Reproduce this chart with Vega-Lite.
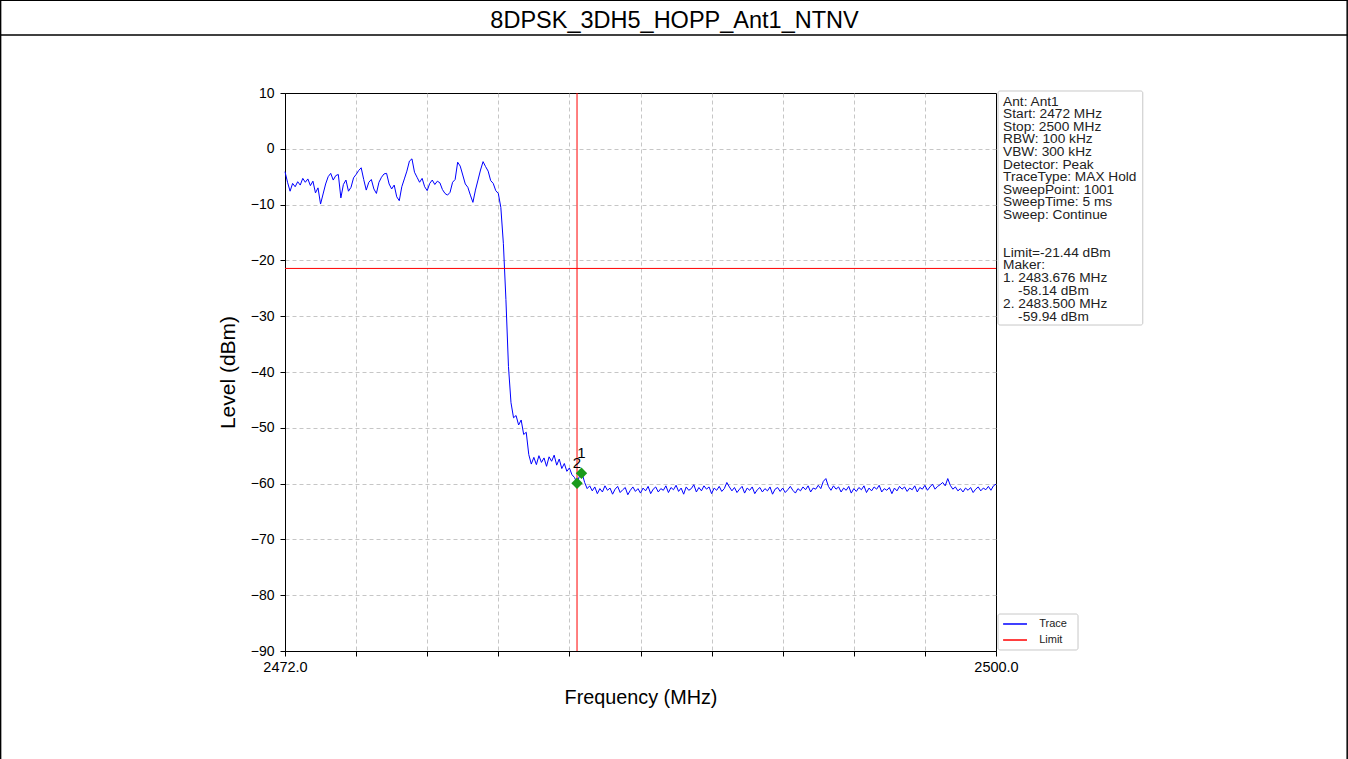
{
  "$schema": "https://vega.github.io/schema/vega-lite/v6.json",
  "width": 711,
  "height": 558,
  "autosize": {"type": "none"},
  "padding": {"left": 285, "top": 93, "right": 352, "bottom": 108},
  "background": "white",
  "config": {
    "font": "Liberation Sans",
    "view": {"stroke": "black", "strokeWidth": 1},
    "axis": {
      "domainColor": "black", "tickColor": "black", "labelColor": "black", "titleColor": "black",
      "gridColor": "#b8b8b8", "gridDash": [4, 3], "gridWidth": 0.8,
      "labelFontSize": 14, "titleFontSize": 19.8, "titleFontWeight": "normal", "tickSize": 5
    }
  },
  "layer": [
    {
      "data": {"values": [
        {"f":2472.0,"v":-4.1},{"f":2472.1,"v":-6.0},{"f":2472.2,"v":-7.6},{"f":2472.3,"v":-6.2},{"f":2472.4,"v":-6.8},
        {"f":2472.5,"v":-5.9},{"f":2472.6,"v":-6.5},{"f":2472.7,"v":-5.3},{"f":2472.8,"v":-6.0},{"f":2472.9,"v":-5.4},
        {"f":2473.0,"v":-6.6},{"f":2473.1,"v":-5.8},{"f":2473.2,"v":-7.9},{"f":2473.3,"v":-7.0},{"f":2473.4,"v":-9.9},
        {"f":2473.5,"v":-8.1},{"f":2473.6,"v":-6.3},{"f":2473.7,"v":-5.0},{"f":2473.8,"v":-4.4},{"f":2473.9,"v":-5.6},
        {"f":2474.0,"v":-4.8},{"f":2474.1,"v":-4.6},{"f":2474.2,"v":-8.8},{"f":2474.3,"v":-6.4},{"f":2474.4,"v":-5.6},
        {"f":2474.5,"v":-7.6},{"f":2474.6,"v":-6.9},{"f":2474.7,"v":-5.2},{"f":2474.8,"v":-4.6},{"f":2474.9,"v":-3.9},
        {"f":2475.0,"v":-3.4},{"f":2475.1,"v":-5.5},{"f":2475.2,"v":-7.4},{"f":2475.3,"v":-6.0},{"f":2475.4,"v":-5.5},
        {"f":2475.5,"v":-7.2},{"f":2475.6,"v":-8.0},{"f":2475.7,"v":-6.0},{"f":2475.8,"v":-5.1},{"f":2475.9,"v":-4.5},
        {"f":2476.0,"v":-4.4},{"f":2476.1,"v":-6.3},{"f":2476.2,"v":-7.2},{"f":2476.3,"v":-6.5},{"f":2476.4,"v":-8.6},
        {"f":2476.5,"v":-9.3},{"f":2476.6,"v":-6.8},{"f":2476.7,"v":-5.4},{"f":2476.8,"v":-4.0},{"f":2476.9,"v":-2.2},
        {"f":2477.0,"v":-1.8},{"f":2477.1,"v":-4.2},{"f":2477.2,"v":-5.1},{"f":2477.3,"v":-6.0},{"f":2477.4,"v":-5.3},
        {"f":2477.5,"v":-6.8},{"f":2477.6,"v":-7.5},{"f":2477.7,"v":-6.2},{"f":2477.8,"v":-5.6},{"f":2477.9,"v":-6.4},
        {"f":2478.0,"v":-5.8},{"f":2478.1,"v":-6.1},{"f":2478.2,"v":-7.3},{"f":2478.3,"v":-8.0},{"f":2478.4,"v":-8.3},
        {"f":2478.5,"v":-7.8},{"f":2478.6,"v":-6.0},{"f":2478.7,"v":-5.5},{"f":2478.8,"v":-2.4},{"f":2478.9,"v":-3.1},
        {"f":2479.0,"v":-4.7},{"f":2479.1,"v":-6.3},{"f":2479.2,"v":-6.9},{"f":2479.3,"v":-8.3},{"f":2479.4,"v":-9.6},
        {"f":2479.5,"v":-7.4},{"f":2479.6,"v":-5.6},{"f":2479.7,"v":-3.8},{"f":2479.8,"v":-2.3},{"f":2479.9,"v":-3.2},
        {"f":2480.0,"v":-4.0},{"f":2480.1,"v":-5.7},{"f":2480.2,"v":-6.2},{"f":2480.3,"v":-7.5},{"f":2480.4,"v":-8.0},
        {"f":2480.5,"v":-10.5},{"f":2480.6,"v":-17.0},{"f":2480.7,"v":-27.0},{"f":2480.8,"v":-39.0},{"f":2480.9,"v":-45.5},
        {"f":2481.0,"v":-48.2},{"f":2481.1,"v":-47.8},{"f":2481.2,"v":-49.5},{"f":2481.3,"v":-48.6},{"f":2481.4,"v":-51.2},
        {"f":2481.5,"v":-50.8},{"f":2481.6,"v":-54.8},{"f":2481.7,"v":-56.5},{"f":2481.8,"v":-55.3},{"f":2481.9,"v":-56.6},
        {"f":2482.0,"v":-55.0},{"f":2482.1,"v":-56.2},{"f":2482.2,"v":-55.4},{"f":2482.3,"v":-56.9},{"f":2482.4,"v":-55.2},
        {"f":2482.5,"v":-56.0},{"f":2482.6,"v":-54.9},{"f":2482.7,"v":-56.7},{"f":2482.8,"v":-55.6},{"f":2482.9,"v":-57.3},
        {"f":2483.0,"v":-56.4},{"f":2483.1,"v":-57.8},{"f":2483.2,"v":-57.2},{"f":2483.3,"v":-58.4},{"f":2483.4,"v":-58.9},
        {"f":2483.5,"v":-59.94},{"f":2483.6,"v":-58.6},{"f":2483.7,"v":-58.14},{"f":2483.8,"v":-59.8},{"f":2483.9,"v":-60.9},
        {"f":2484.0,"v":-60.4},{"f":2484.1,"v":-61.3},{"f":2484.2,"v":-60.6},{"f":2484.3,"v":-61.8},{"f":2484.4,"v":-60.9},
        {"f":2484.5,"v":-61.5},{"f":2484.6,"v":-60.4},{"f":2484.7,"v":-61.2},{"f":2484.8,"v":-60.8},{"f":2484.9,"v":-61.9},
        {"f":2485.0,"v":-61.0},{"f":2485.1,"v":-60.5},{"f":2485.2,"v":-61.6},{"f":2485.3,"v":-61.1},{"f":2485.4,"v":-60.7},
        {"f":2485.5,"v":-62.0},{"f":2485.6,"v":-61.2},{"f":2485.7,"v":-60.6},{"f":2485.8,"v":-61.4},{"f":2485.9,"v":-60.9},
        {"f":2486.0,"v":-61.7},{"f":2486.1,"v":-60.8},{"f":2486.2,"v":-61.3},{"f":2486.3,"v":-60.5},{"f":2486.4,"v":-61.8},
        {"f":2486.5,"v":-61.0},{"f":2486.6,"v":-60.6},{"f":2486.7,"v":-61.5},{"f":2486.8,"v":-60.9},{"f":2486.9,"v":-61.2},
        {"f":2487.0,"v":-60.4},{"f":2487.1,"v":-61.6},{"f":2487.2,"v":-60.7},{"f":2487.3,"v":-61.1},{"f":2487.4,"v":-60.3},
        {"f":2487.5,"v":-61.4},{"f":2487.6,"v":-60.8},{"f":2487.7,"v":-61.9},{"f":2487.8,"v":-60.6},{"f":2487.9,"v":-61.2},
        {"f":2488.0,"v":-60.9},{"f":2488.1,"v":-60.2},{"f":2488.2,"v":-61.5},{"f":2488.3,"v":-60.7},{"f":2488.4,"v":-61.3},
        {"f":2488.5,"v":-60.4},{"f":2488.6,"v":-61.0},{"f":2488.7,"v":-60.6},{"f":2488.8,"v":-61.8},{"f":2488.9,"v":-60.8},
        {"f":2489.0,"v":-61.2},{"f":2489.1,"v":-60.5},{"f":2489.2,"v":-61.4},{"f":2489.3,"v":-60.9},{"f":2489.4,"v":-59.8},
        {"f":2489.5,"v":-60.6},{"f":2489.6,"v":-61.3},{"f":2489.7,"v":-60.7},{"f":2489.8,"v":-61.6},{"f":2489.9,"v":-61.0},
        {"f":2490.0,"v":-60.5},{"f":2490.1,"v":-61.7},{"f":2490.2,"v":-60.8},{"f":2490.3,"v":-61.2},{"f":2490.4,"v":-60.6},
        {"f":2490.5,"v":-61.8},{"f":2490.6,"v":-61.1},{"f":2490.7,"v":-60.7},{"f":2490.8,"v":-61.5},{"f":2490.9,"v":-60.9},
        {"f":2491.0,"v":-61.3},{"f":2491.1,"v":-60.6},{"f":2491.2,"v":-61.9},{"f":2491.3,"v":-61.0},{"f":2491.4,"v":-60.7},
        {"f":2491.5,"v":-61.4},{"f":2491.6,"v":-60.8},{"f":2491.7,"v":-61.6},{"f":2491.8,"v":-61.1},{"f":2491.9,"v":-60.5},
        {"f":2492.0,"v":-61.2},{"f":2492.1,"v":-61.7},{"f":2492.2,"v":-60.9},{"f":2492.3,"v":-61.3},{"f":2492.4,"v":-60.6},
        {"f":2492.5,"v":-61.1},{"f":2492.6,"v":-60.4},{"f":2492.7,"v":-61.5},{"f":2492.8,"v":-60.8},{"f":2492.9,"v":-61.0},
        {"f":2493.0,"v":-60.3},{"f":2493.1,"v":-60.9},{"f":2493.2,"v":-59.6},{"f":2493.3,"v":-59.1},{"f":2493.4,"v":-60.5},
        {"f":2493.5,"v":-61.2},{"f":2493.6,"v":-60.4},{"f":2493.7,"v":-61.0},{"f":2493.8,"v":-60.6},{"f":2493.9,"v":-61.5},
        {"f":2494.0,"v":-60.8},{"f":2494.1,"v":-61.2},{"f":2494.2,"v":-60.5},{"f":2494.3,"v":-61.7},{"f":2494.4,"v":-60.9},
        {"f":2494.5,"v":-61.4},{"f":2494.6,"v":-60.7},{"f":2494.7,"v":-61.1},{"f":2494.8,"v":-60.4},{"f":2494.9,"v":-61.6},
        {"f":2495.0,"v":-60.8},{"f":2495.1,"v":-61.3},{"f":2495.2,"v":-60.6},{"f":2495.3,"v":-61.0},{"f":2495.4,"v":-60.3},
        {"f":2495.5,"v":-61.5},{"f":2495.6,"v":-60.9},{"f":2495.7,"v":-61.2},{"f":2495.8,"v":-60.7},{"f":2495.9,"v":-61.8},
        {"f":2496.0,"v":-60.8},{"f":2496.1,"v":-61.3},{"f":2496.2,"v":-60.5},{"f":2496.3,"v":-61.0},{"f":2496.4,"v":-60.6},
        {"f":2496.5,"v":-61.4},{"f":2496.6,"v":-60.8},{"f":2496.7,"v":-61.1},{"f":2496.8,"v":-60.4},{"f":2496.9,"v":-61.5},
        {"f":2497.0,"v":-60.7},{"f":2497.1,"v":-61.0},{"f":2497.2,"v":-60.3},{"f":2497.3,"v":-61.2},{"f":2497.4,"v":-60.6},
        {"f":2497.5,"v":-60.1},{"f":2497.6,"v":-61.0},{"f":2497.7,"v":-60.5},{"f":2497.8,"v":-60.2},{"f":2497.9,"v":-59.8},
        {"f":2498.0,"v":-60.4},{"f":2498.1,"v":-59.1},{"f":2498.2,"v":-60.3},{"f":2498.3,"v":-61.0},{"f":2498.4,"v":-60.6},
        {"f":2498.5,"v":-61.3},{"f":2498.6,"v":-60.9},{"f":2498.7,"v":-61.5},{"f":2498.8,"v":-60.8},{"f":2498.9,"v":-61.2},
        {"f":2499.0,"v":-60.7},{"f":2499.1,"v":-61.6},{"f":2499.2,"v":-61.0},{"f":2499.3,"v":-60.6},{"f":2499.4,"v":-61.3},
        {"f":2499.5,"v":-60.8},{"f":2499.6,"v":-61.1},{"f":2499.7,"v":-60.5},{"f":2499.8,"v":-61.2},{"f":2499.9,"v":-60.4},
        {"f":2500.0,"v":-60.1}
      ]},
      "mark": {"type": "line", "strokeWidth": 1},
      "encoding": {
        "x": {"field": "f", "type": "quantitative",
          "scale": {"domain": [2472, 2500], "nice": false, "zero": false},
          "axis": {"values": [2472, 2474.8, 2477.6, 2480.4, 2483.2, 2486, 2488.8, 2491.6, 2494.4, 2497.2, 2500],
            "labelExpr": "datum.value == 2472 || datum.value == 2500 ? format(datum.value, '.1f') : ''",
            "labelOverlap": false, "labelFlush": false, "labelFontSize": 14.5, "labelPadding": 4,
            "gridOpacity": {"condition": {"test": "datum.value == 2472 || datum.value == 2500", "value": 0}, "value": 1},
            "title": "Frequency (MHz)", "titlePadding": 14}},
        "y": {"field": "v", "type": "quantitative",
          "scale": {"domain": [-90, 10], "nice": false, "zero": false},
          "axis": {"values": [-90, -80, -70, -60, -50, -40, -30, -20, -10, 0, 10], "format": "d",
            "gridOpacity": {"condition": {"test": "datum.value == 10 || datum.value == -90", "value": 0}, "value": 1},
            "labelPadding": 6, "title": "Level (dBm)", "titlePadding": 12, "titleFontSize": 21}},
        "color": {"datum": "Trace", "type": "nominal",
          "scale": {"domain": ["Trace", "Limit"], "range": ["blue", "red"]},
          "legend": null}
      }
    },
    {
      "data": {"values": [{}]},
      "mark": {"type": "rule", "strokeWidth": 1},
      "encoding": {"y": {"datum": -21.44}, "color": {"datum": "Limit", "type": "nominal"}}
    },
    {
      "data": {"values": [{}]},
      "mark": {"type": "rule", "strokeWidth": 1, "color": "red"},
      "encoding": {"x": {"datum": 2483.5}}
    },
    {
      "data": {"values": [{"f": 2483.676, "v": -58.14, "label": "1"}, {"f": 2483.5, "v": -59.94, "label": "2"}]},
      "layer": [
        {
          "mark": {"type": "point", "shape": "diamond", "filled": true, "size": 130, "color": "#1a9a1a", "opacity": 1},
          "encoding": {"x": {"field": "f", "type": "quantitative"}, "y": {"field": "v", "type": "quantitative"}}
        },
        {
          "mark": {"type": "text", "fontSize": 15, "dy": -20, "color": "black"},
          "encoding": {"x": {"field": "f", "type": "quantitative"}, "y": {"field": "v", "type": "quantitative"}, "text": {"field": "label"}}
        }
      ]
    },
    {
      "data": {"values": [{}]},
      "mark": {"type": "rect", "fill": "white", "stroke": "#c8c8c8", "strokeWidth": 1, "cornerRadius": 2},
      "encoding": {"x": {"datum": 2500.08}, "x2": {"datum": 2505.78}, "y": {"datum": 10.36}, "y2": {"datum": -31.58}}
    },
    {
      "data": {"values": [{}]},
      "mark": {"type": "text", "align": "left", "baseline": "top", "fontSize": 13.7, "lineHeight": 12.6, "color": "#222222"},
      "encoding": {"x": {"datum": 2500.28}, "y": {"datum": 9.73},
        "text": {"value": ["Ant: Ant1", "Start: 2472 MHz", "Stop: 2500 MHz", "RBW: 100 kHz", "VBW: 300 kHz", "Detector: Peak", "TraceType: MAX Hold", "SweepPoint: 1001", "SweepTime: 5 ms", "Sweep: Continue"]}}
    },
    {
      "data": {"values": [{}]},
      "mark": {"type": "text", "align": "left", "baseline": "top", "fontSize": 13.7, "lineHeight": 12.8, "color": "#222222"},
      "encoding": {"x": {"datum": 2500.28}, "y": {"datum": -17.33},
        "text": {"value": ["Limit=-21.44 dBm", "Maker:", "1. 2483.676 MHz"]}}
    },
    {
      "data": {"values": [{}]},
      "mark": {"type": "text", "align": "left", "baseline": "top", "fontSize": 13.7, "color": "#222222", "dx": 15},
      "encoding": {"x": {"datum": 2500.28}, "y": {"datum": -24.21}, "text": {"value": "-58.14 dBm"}}
    },
    {
      "data": {"values": [{}]},
      "mark": {"type": "text", "align": "left", "baseline": "top", "fontSize": 13.7, "color": "#222222"},
      "encoding": {"x": {"datum": 2500.28}, "y": {"datum": -26.51}, "text": {"value": "2. 2483.500 MHz"}}
    },
    {
      "data": {"values": [{}]},
      "mark": {"type": "text", "align": "left", "baseline": "top", "fontSize": 13.7, "color": "#222222", "dx": 15},
      "encoding": {"x": {"datum": 2500.28}, "y": {"datum": -28.8}, "text": {"value": "-59.94 dBm"}}
    },
    {
      "data": {"values": [{}]},
      "mark": {"type": "rect", "fill": "white", "stroke": "#c8c8c8", "strokeWidth": 1, "cornerRadius": 2},
      "encoding": {"x": {"datum": 2500.08}, "x2": {"datum": 2503.23}, "y": {"datum": -83.37}, "y2": {"datum": -89.82}}
    },
    {
      "data": {"values": [{}]},
      "mark": {"type": "rule", "strokeWidth": 1.5},
      "encoding": {"x": {"datum": 2500.28}, "x2": {"datum": 2501.22}, "y": {"datum": -85.16}, "color": {"datum": "Trace", "type": "nominal"}}
    },
    {
      "data": {"values": [{}]},
      "mark": {"type": "rule", "strokeWidth": 1.5},
      "encoding": {"x": {"datum": 2500.28}, "x2": {"datum": 2501.22}, "y": {"datum": -88.03}, "color": {"datum": "Limit", "type": "nominal"}}
    },
    {
      "data": {"values": [{}]},
      "mark": {"type": "text", "align": "left", "baseline": "middle", "fontSize": 11, "color": "#222222"},
      "encoding": {"x": {"datum": 2501.7}, "y": {"datum": -85.16}, "text": {"value": "Trace"}}
    },
    {
      "data": {"values": [{}]},
      "mark": {"type": "text", "align": "left", "baseline": "middle", "fontSize": 11, "color": "#222222"},
      "encoding": {"x": {"datum": 2501.7}, "y": {"datum": -88.03}, "text": {"value": "Limit"}}
    },
    {
      "data": {"values": [{}]},
      "mark": {"type": "text", "align": "center", "baseline": "middle", "fontSize": 23.5, "color": "black"},
      "encoding": {"x": {"datum": 2487.34}, "y": {"datum": 22.9}, "text": {"value": "8DPSK_3DH5_HOPP_Ant1_NTNV"}}
    },
    {
      "data": {"values": [{}]},
      "mark": {"type": "rule", "color": "black", "strokeWidth": 1.5},
      "encoding": {"x": {"datum": 2460.78}, "x2": {"datum": 2513.85}, "y": {"datum": 20.39}}
    },
    {
      "data": {"values": [{}]},
      "mark": {"type": "rule", "color": "black", "strokeWidth": 1.5},
      "encoding": {"x": {"datum": 2460.78}, "x2": {"datum": 2513.85}, "y": {"datum": 26.6}}
    },
    {
      "data": {"values": [{}]},
      "mark": {"type": "rule", "color": "black", "strokeWidth": 1.5},
      "encoding": {"x": {"datum": 2460.8}, "y": {"datum": 26.67}, "y2": {"datum": -109.4}}
    },
    {
      "data": {"values": [{}]},
      "mark": {"type": "rule", "color": "black", "strokeWidth": 1.5},
      "encoding": {"x": {"datum": 2513.83}, "y": {"datum": 26.67}, "y2": {"datum": -109.4}}
    }
  ]
}
